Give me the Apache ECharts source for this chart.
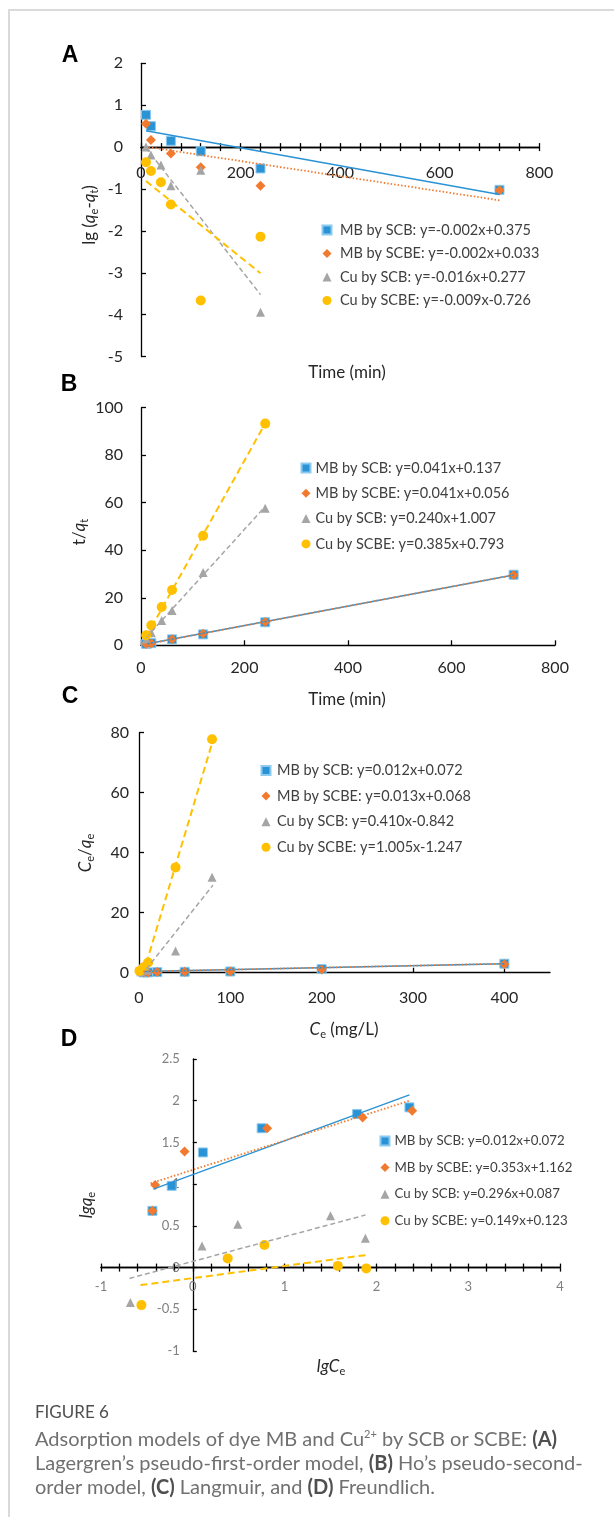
<!DOCTYPE html>
<html>
<head>
<meta charset="utf-8">
<script src="https://cdn.jsdelivr.net/npm/echarts@6/dist/echarts.min.js"></script>
<style>
  html, body { margin: 0; padding: 0; background: #fff; }
  #page { position: relative; width: 614px; height: 1517px; overflow: hidden; }
  #frame { position: absolute; left: 8px; top: 9px; right: 0; bottom: 0; border-top: 2px solid #dadada; border-left: 2px solid #dadada; }
  #chart { position: absolute; left: 0; top: 0; width: 614px; height: 1517px; }
  #caption { position: absolute; left: 35px; top: 1400px; width: 575px; font-family: Lato, 'Open Sans', sans-serif; font-size: 20px; line-height: 24px; color: #707070; white-space: nowrap; }
  #caption .head { color: #4f4f4f; font-size: 17px; }
  #caption b { color: #4f4f4f; }
  #caption sup { font-size: 11px; line-height: 0; vertical-align: 8px; }
</style>
</head>
<body>
<div id="page">
  <div id="frame"></div>
  <div id="chart"></div>
  <div id="caption">
    <div class="head">FIGURE 6</div>
    <div style="margin-top:2px">Adsorption models of dye MB and Cu<sup>2+</sup> by SCB or SCBE: <b>(A)</b><br>
    Lagergren’s pseudo-first-order model, <b>(B)</b> Ho’s pseudo-second-<br>
    order model, <b>(C)</b> Langmuir, and <b>(D)</b> Freundlich.</div>
  </div>
</div>
<script>
// series names (same four in every panel)
const names = ['MB by SCB', 'MB by SCBE', 'Cu by SCB', 'Cu by SCBE'];

// A: Lagergren pseudo-first-order, lg(qe-qt) vs time
const timeMB = [10, 20, 60, 120, 240, 720];
const timeCu = [10, 20, 40, 60, 120, 240];
const lgMbScb = [0.77, 0.50, 0.15, -0.10, -0.51, -1.02];
const lgMbScbe = [0.56, 0.17, -0.15, -0.48, -0.92, -1.03];
const lgCuScb = [0.00, -0.19, -0.43, -0.92, -0.55, -3.94];
const lgCuScbe = [-0.36, -0.57, -0.84, -1.37, -3.66, -2.14];
const fitA = [
  [[10, 0.39], [720, -1.13]],
  [[15, 0.0], [720, -1.27]],
  [[10, -0.02], [240, -3.52]],
  [[10, -0.81], [240, -3.01]]
];
const eqA = ['y=-0.002x+0.375', 'y=-0.002x+0.033', 'y=-0.016x+0.277', 'y=-0.009x-0.726'];

// B: Ho pseudo-second-order, t/qt vs time
const tqMbScb = [0.6, 0.9, 2.5, 4.6, 9.7, 29.7];
const tqMbScbe = [0.5, 0.8, 2.5, 4.9, 9.8, 29.6];
const tqCuScb = [2.5, 5.3, 10.4, 14.6, 30.6, 57.7];
const tqCuScbe = [4.2, 8.4, 16.1, 23.3, 46.1, 93.3];
const fitB = [
  [[10, 0.5], [720, 29.6]],
  [[10, 0.5], [720, 29.6]],
  [[10, 3.2], [240, 58.4]],
  [[10, 3.6], [240, 93.4]]
];
const eqB = ['y=0.041x+0.137', 'y=0.041x+0.056', 'y=0.240x+1.007', 'y=0.385x+0.793'];

// C: Langmuir, Ce/qe vs Ce
const ceMB = [5, 10, 20, 50, 100, 200, 400];
const cqMbScb = [0.1, 0.1, 0.2, 0.3, 0.4, 1.2, 3.0];
const cqMbScbe = [0.1, 0.1, 0.2, 0.3, 0.4, 1.1, 2.8];
const ceCuScb = [2, 9, 40, 80];
const cqCuScb = [0.3, 0.9, 7.2, 31.8];
const ceCuScbe = [0.5, 5, 10, 40, 80];
const cqCuScbe = [0.6, 1.8, 3.4, 35.1, 77.8];
const fitC = [
  [[5, 0.4], [400, 3.0]],
  [[5, 0.4], [400, 3.0]],
  [[8, 1.2], [81, 29.2]],
  [[8, 3.1], [80, 76.5]]
];
const eqC = ['y=0.012x+0.072', 'y=0.013x+0.068', 'y=0.410x-0.842', 'y=1.005x-1.247'];

// D: Freundlich, lgqe vs lgCe
const lgCeMbScb = [-0.44, -0.23, 0.11, 0.75, 1.79, 2.36];
const lgQeMbScb = [0.68, 0.98, 1.38, 1.67, 1.84, 1.92];
const lgCeMbScbe = [-0.44, -0.41, -0.09, 0.81, 1.85, 2.39];
const lgQeMbScbe = [0.68, 0.99, 1.39, 1.67, 1.80, 1.88];
const lgCeCuScb = [-0.68, 0.10, 0.49, 1.50, 1.88];
const lgQeCuScb = [-0.42, 0.26, 0.52, 0.62, 0.35];
const lgCeCuScbe = [-0.56, 0.38, 0.78, 1.58, 1.89];
const lgQeCuScbe = [-0.45, 0.11, 0.27, 0.02, -0.01];
const fitD = [
  [[-0.43, 0.94], [2.36, 2.07]],
  [[-0.46, 1.01], [2.36, 2.0]],
  [[-0.69, -0.13], [1.88, 0.63]],
  [[-0.57, -0.21], [1.89, 0.15]]
];
const eqD = ['y=0.012x+0.072', 'y=0.353x+1.162', 'y=0.296x+0.087', 'y=0.149x+0.123'];

const BLUE = '#2A93D5', ORANGE = '#F27A2F', GRAY = '#A5A5A5', GOLD = '#FFC000';
const INK = '#262626';
const FONT = 'Lato';

const marks = [
  { symbol: 'rect', color: BLUE, size: 9, border: '#8ccaf0' },
  { symbol: 'diamond', color: ORANGE, size: 10 },
  { symbol: 'triangle', color: GRAY, size: 9 },
  { symbol: 'circle', color: GOLD, size: 10 }
];
const fitStyles = [
  { color: BLUE, width: 1.5, type: 'solid' },
  { color: ORANGE, width: 1.8, type: [1.5, 2] },
  { color: GRAY, width: 1.5, type: [5, 3] },
  { color: GOLD, width: 2, type: [7, 4] }
];

const chart = echarts.init(document.getElementById('chart'));

function dots(k, xs, ys, ax) {
  const m = marks[k];
  return {
    name: names[k], type: 'scatter', xAxisIndex: ax[0], yAxisIndex: ax[1],
    symbol: m.symbol, symbolSize: m.size,
    itemStyle: { color: m.color, borderColor: m.border || m.color, borderWidth: m.border ? 1 : 0, opacity: 1 },
    data: xs.map((x, i) => [x, ys[i]])
  };
}
function fit(k, seg, ax) {
  const f = fitStyles[k];
  return {
    name: 'fit', type: 'line', xAxisIndex: ax[0], yAxisIndex: ax[1], symbol: 'none', silent: true, z: 3,
    lineStyle: { color: f.color, width: f.width, type: f.type }, data: seg
  };
}

// axes are pinned with offset (onZero off) so labels follow the axis line
const line = { color: '#000', width: 1.3 };
function xAxis(grid, min, max, interval, opts) {
  return Object.assign({
    gridIndex: grid, type: 'value', min, max, interval, position: 'bottom',
    axisLine: { onZero: false, lineStyle: line },
    axisTick: { inside: true, length: 5, lineStyle: line },
    splitLine: { show: false },
    axisLabel: { margin: 15, color: INK, fontFamily: FONT, fontSize: 16 }
  }, opts);
}
function yAxis(grid, min, max, interval, opts) {
  return Object.assign({
    gridIndex: grid, type: 'value', min, max, interval, position: 'left',
    axisLine: { onZero: false, lineStyle: line },
    axisTick: { inside: true, length: 5, lineStyle: line },
    splitLine: { show: false },
    axisLabel: { margin: 18, color: INK, fontFamily: FONT, fontSize: 16 }
  }, opts);
}
const crossTick = { inside: false, length: 4, lineStyle: line };
const crossMinor = (n) => ({ show: true, splitNumber: n, length: 4, lineStyle: line });

function legend(left, top, gap, size, eqs, padLeft) {
  return {
    orient: 'vertical', left, top, itemGap: gap, itemWidth: 9, itemHeight: 9,
    data: names, selectedMode: false,
    textStyle: { color: '#404040', fontFamily: FONT, fontSize: size, lineHeight: 16, padding: [0, 0, 0, padLeft || 0] },
    formatter: (n) => n + ': ' + eqs[names.indexOf(n)]
  };
}

const sub = { fontSize: 11, lineHeight: 10, verticalAlign: 'bottom', fill: INK, fontFamily: FONT };
const rich = {
  n: { fontSize: 17, lineHeight: 20, fill: INK, fontFamily: FONT },
  i: { fontSize: 17, lineHeight: 20, fill: INK, fontFamily: FONT, fontStyle: 'italic' },
  s: sub
};
function title(x, y, text, rot) {
  return { type: 'text', x, y, rotation: rot ? Math.PI / 2 : 0,
    style: { text, rich, align: 'center', verticalAlign: 'middle', fill: INK, fontFamily: FONT, fontSize: 17 } };
}
function letter(x, y, t) {
  return { type: 'text', x, y, style: { text: t, fill: '#000', font: 'bold 23px "Liberation Sans"', align: 'center', verticalAlign: 'middle' } };
}

const option = {
  animation: false,
  grid: [
    { left: 141, top: 63.3, width: 398.3, height: 293.3 },
    { left: 141, top: 407.7, width: 414, height: 237.6 },
    { left: 139, top: 732.7, width: 411, height: 240 },
    { left: 101, top: 1059, width: 459, height: 292 }
  ],
  xAxis: [
    // A: time axis drawn at y = 0, ticks crossing the line
    xAxis(0, 0, 800, 200, { offset: -209.5, axisTick: crossTick, minorTick: crossMinor(5), axisLabel: { margin: 18, color: INK, fontFamily: FONT, fontSize: 16 } }),
    xAxis(0, 0, 800, 200, { position: 'top', offset: -83.8, axisTick: crossTick, minorTick: crossMinor(5), axisLabel: { show: false } }),
    xAxis(1, 0, 800, 200, {}),
    xAxis(2, 0, 450, 100, { axisLabel: { margin: 17, color: INK, fontFamily: FONT, fontSize: 16, showMaxLabel: false } }),
    // D: lgCe axis at y = 0
    xAxis(3, -1, 4, 1, { offset: -83.4, axisTick: crossTick, minorTick: crossMinor(5), axisLabel: { margin: 13, color: '#808080', fontFamily: FONT, fontSize: 13 } }),
    xAxis(3, -1, 4, 1, { position: 'top', offset: -208.6, axisTick: crossTick, minorTick: crossMinor(5), axisLabel: { show: false } })
  ],
  yAxis: [
    yAxis(0, -5, 2, 1, {}),
    yAxis(1, 0, 100, 20, {}),
    yAxis(2, 0, 80, 20, { axisLabel: { margin: 10, color: INK, fontFamily: FONT, fontSize: 16 } }),
    // D: lgqe axis at x = 0
    yAxis(3, -1, 2.5, 0.5, { offset: -91.8, axisTick: { inside: true, length: 4, lineStyle: line }, axisLabel: { margin: 13, color: '#808080', fontFamily: FONT, fontSize: 13 } })
  ],
  legend: [
    legend(316.5, 217, 7.5, 14.5, eqA, 3.5),
    legend(295.5, 455, 9.3, 14.5, eqB),
    legend(255.5, 757.5, 9.6, 14.5, eqC, 1.5),
    legend(374.5, 1128, 10.6, 13.3, eqD)
  ],
  graphic: [
    letter(70, 56, 'A'), letter(69, 385, 'B'), letter(70, 697, 'C'), letter(69, 1040, 'D'),
    title(90, 215, '{n|lg (}{i|q}{s|e}{n|-}{i|q}{s|t}{n|)}', true),
    title(347, 373, '{n|Time (min)}'),
    title(80, 532, '{n|t/}{i|q}{s|t}', true),
    title(347, 700, '{n|Time (min)}'),
    title(86, 853, '{i|C}{s|e}{n|/}{i|q}{s|e}', true),
    title(344, 1030, '{i|C}{s|e}{n| (mg/L)}'),
    title(87, 1205, '{i|lgq}{s|e}', true),
    title(331, 1367, '{i|lgC}{s|e}')
  ],
  series: [
    dots(0, timeMB, lgMbScb, [0, 0]), dots(1, timeMB, lgMbScbe, [0, 0]),
    dots(2, timeCu, lgCuScb, [0, 0]), dots(3, timeCu, lgCuScbe, [0, 0]),
    ...fitA.map((s, k) => fit(k, s, [0, 0])),

    dots(0, timeMB, tqMbScb, [2, 1]), dots(1, timeMB, tqMbScbe, [2, 1]),
    dots(2, timeCu, tqCuScb, [2, 1]), dots(3, timeCu, tqCuScbe, [2, 1]),
    ...fitB.map((s, k) => fit(k, s, [2, 1])),

    dots(0, ceMB, cqMbScb, [3, 2]), dots(1, ceMB, cqMbScbe, [3, 2]),
    dots(2, ceCuScb, cqCuScb, [3, 2]), dots(3, ceCuScbe, cqCuScbe, [3, 2]),
    ...fitC.map((s, k) => fit(k, s, [3, 2])),

    dots(0, lgCeMbScb, lgQeMbScb, [4, 3]), dots(1, lgCeMbScbe, lgQeMbScbe, [4, 3]),
    dots(2, lgCeCuScb, lgQeCuScb, [4, 3]), dots(3, lgCeCuScbe, lgQeCuScbe, [4, 3]),
    ...fitD.map((s, k) => fit(k, s, [4, 3]))
  ]
};

chart.setOption(option);
</script>
</body>
</html>
